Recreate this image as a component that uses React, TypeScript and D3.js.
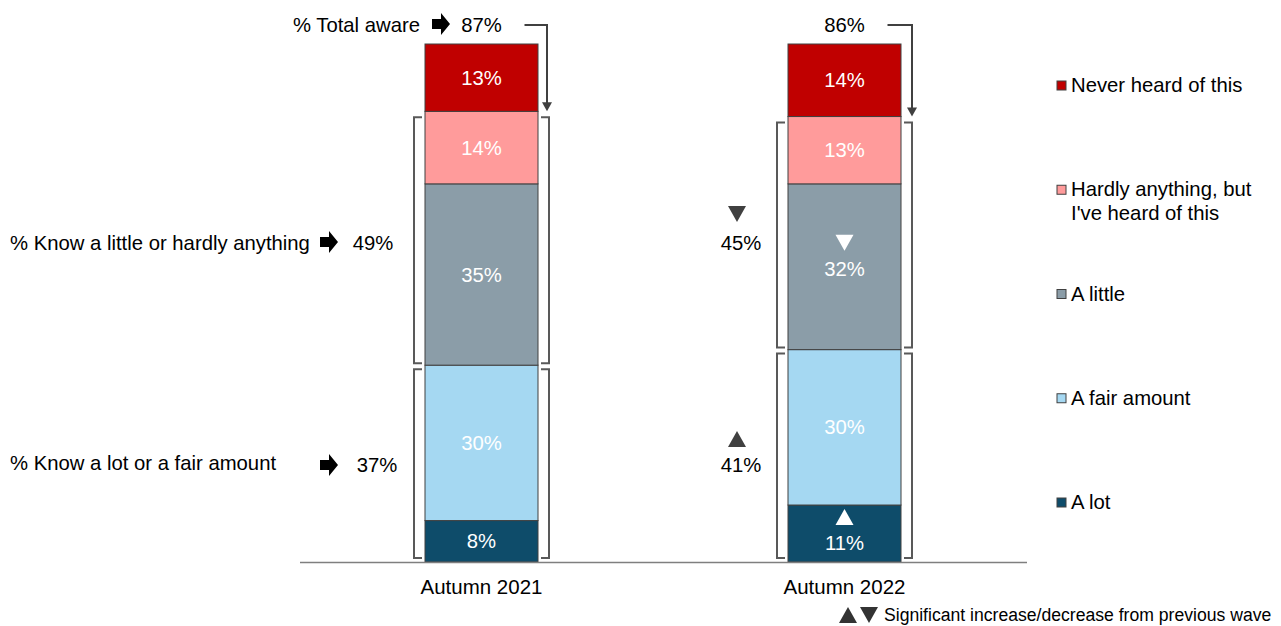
import React from 'react';
import * as d3 from 'd3';

const waves = ['Autumn 2021', 'Autumn 2022'];
const segments = ['A lot', 'A fair amount', 'A little', "Hardly anything, but I've heard of this", 'Never heard of this'];
const colors = ['#0E4C6A', '#A5D8F2', '#8B9DA8', '#FF9B9B', '#C00000'];
const values2021 = [8, 30, 35, 14, 13];
const values2022 = [11, 30, 32, 13, 14];
const totalAware = ['87%', '86%'];
const knowLittle = ['49%', '45%'];
const knowLot = ['37%', '41%'];
// significance markers: [wave index, segment index, direction]
const sigInBar: [number, number, 'up' | 'down'][] = [[1, 2, 'down'], [1, 0, 'up']];
const legendLines = [['A lot'], ['A fair amount'], ['A little'], ['Hardly anything, but', "I've heard of this"], ['Never heard of this']];

const W = 1281, H = 626;
const FONT = 'Liberation Sans, Arial, sans-serif';
const FS = 20.3;

function BlockArrow({ x, y }: { x: number; y: number }) {
  // small black block arrow pointing right, centred vertically at y
  return <path d={`M${x},${y - 5}h9v-6l9,11l-9,11v-6h-9z`} fill="#000" />;
}

function Tri({ x, y, dir, fill }: { x: number; y: number; dir: 'up' | 'down'; fill: string }) {
  const s = 9;
  const d = dir === 'up'
    ? `M${x},${y - s * 0.9}L${x + s},${y + s * 0.9}L${x - s},${y + s * 0.9}Z`
    : `M${x},${y + s * 0.9}L${x + s},${y - s * 0.9}L${x - s},${y - s * 0.9}Z`;
  return <path d={d} fill={fill} />;
}

export default function App() {
  const y = d3.scaleLinear().domain([0, 100]).range([562, 44]);
  const x = d3.scalePoint<string>().domain(waves).range([481.5, 844.5]);
  const bw = 113;
  const data = [values2021, values2022];
  const stacks = data.map(v => {
    let acc = 0;
    return v.map(d => { const s = { y0: acc, y1: acc + d, v: d }; acc += d; return s; });
  });

  const bracket = (x0: number, x1: number, top: number, bot: number, key: string) => (
    <g key={key} fill="none" stroke="#595959" strokeWidth={2}>
      <path d={`M${x0 + 8},${top}H${x0}V${bot}H${x0 + 8}`} />
      <path d={`M${x1 - 8},${top}H${x1}V${bot}H${x1 - 8}`} />
    </g>
  );

  const legendY = d3.scaleLinear().domain([0, 4]).range([502, 85]);

  return (
    <svg width={W} height={H} style={{ position: 'absolute', left: 0, top: 0 }} fontFamily={FONT}>
      {/* bars */}
      {waves.map((w, wi) => {
        const cx = x(w)!;
        return (
          <g key={w}>
            {stacks[wi].map((s, si) => {
              const sig = sigInBar.find(m => m[0] === wi && m[1] === si);
              const mid = (y(s.y0) + y(s.y1)) / 2;
              const triY = Math.max(mid - 24, y(s.y1) + 12);
              return (
                <g key={si}>
                  <rect x={cx - bw / 2} y={y(s.y1)} width={bw} height={y(s.y0) - y(s.y1)}
                    fill={colors[si]} stroke="#404040" strokeWidth={1} />
                  {sig && <Tri x={cx} y={triY} dir={sig[2]} fill="#fff" />}
                  <text x={cx} y={sig ? triY + 26 : mid} dy="0.35em" textAnchor="middle" fill="#fff" fontSize={FS}>
                    {s.v}%
                  </text>
                </g>
              );
            })}
            {/* brackets */}
            {bracket(cx - bw / 2 - 11, cx + bw / 2 + 11, y(stacks[wi][3].y1) + 6, y(stacks[wi][1].y1) - 2, 'b1')}
            {bracket(cx - bw / 2 - 11, cx + bw / 2 + 11, y(stacks[wi][1].y1) + 4, y(0) - 4, 'b2')}
            {/* total aware arrow */}
            <path d={`M${cx + 43},${25}H${cx + bw / 2 + 9 + (wi ? 2 : 0)}V${y(stacks[wi][3].y1) - 8}`}
              fill="none" stroke="#404040" strokeWidth={2} />
            <path d={`M${cx + bw / 2 + 4 + (wi ? 2 : 0)},${y(stacks[wi][3].y1) - 9}l5,9l5,-9z`} fill="#404040" />
            <text x={cx} y={25} dy="0.35em" textAnchor="middle" fontSize={FS} fill="#000">{totalAware[wi]}</text>
            {/* axis label */}
            <text x={cx} y={587} dy="0.35em" textAnchor="middle" fontSize={20.5} fill="#000">{w}</text>
          </g>
        );
      })}

      {/* axis baseline */}
      <line x1={300} x2={1027} y1={562.5} y2={562.5} stroke="#7f7f7f" strokeWidth={1.5} />

      {/* left annotations, wave 1 */}
      <text x={420} y={25} dy="0.35em" textAnchor="end" fontSize={FS} fill="#000">% Total aware</text>
      <BlockArrow x={432} y={24} />
      <text x={10} y={243} dy="0.35em" fontSize={FS} fill="#000">% Know a little or hardly anything</text>
      <BlockArrow x={320} y={242} />
      <text x={373} y={243} dy="0.35em" textAnchor="middle" fontSize={FS} fill="#000">{knowLittle[0]}</text>
      <text x={10} y={463} dy="0.35em" fontSize={FS} fill="#000">% Know a lot or a fair amount</text>
      <BlockArrow x={320} y={465} />
      <text x={377} y={465} dy="0.35em" textAnchor="middle" fontSize={FS} fill="#000">{knowLot[0]}</text>

      {/* wave 2 group totals */}
      <Tri x={737} y={214} dir="down" fill="#404040" />
      <text x={741} y={243} dy="0.35em" textAnchor="middle" fontSize={FS} fill="#000">{knowLittle[1]}</text>
      <Tri x={737} y={439} dir="up" fill="#404040" />
      <text x={741} y={465} dy="0.35em" textAnchor="middle" fontSize={FS} fill="#000">{knowLot[1]}</text>

      {/* legend */}
      {legendLines.map((lines, i) => {
        const ly = legendY(i);
        return (
          <g key={i}>
            <rect x={1057} y={ly - 4} width={9} height={9} fill={colors[i]} stroke="#404040" strokeWidth={1} />
            {lines.map((l, li) => (
              <text key={li} x={1071} y={ly + li * 24} dy="0.35em" fontSize={20.3} fill="#000">{l}</text>
            ))}
          </g>
        );
      })}

      {/* significance note */}
      <Tri x={848} y={615} dir="up" fill="#333" />
      <Tri x={869} y={615} dir="down" fill="#333" />
      <text x={884} y={615} dy="0.35em" fontSize={17.6} fill="#000">Significant increase/decrease from previous wave</text>
    </svg>
  );
}
